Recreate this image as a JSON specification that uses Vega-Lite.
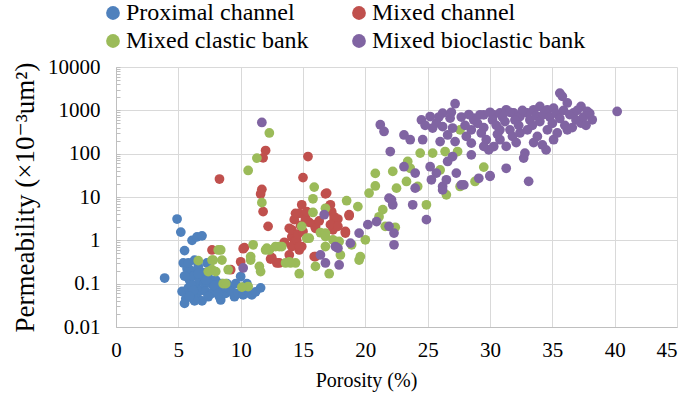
{
  "$schema": "https://vega.github.io/schema/vega-lite/v6.json",
  "width": 561,
  "height": 260,
  "autosize": {"type": "none"},
  "padding": {"left": 116, "top": 67, "right": 8, "bottom": 73},
  "background": "white",
  "config": {
    "view": {"stroke": null},
    "font": "Liberation Serif, Times New Roman, DejaVu Serif, serif",
    "axis": {"labelFont": "Liberation Serif, Times New Roman, DejaVu Serif, serif", "titleFont": "Liberation Serif, Times New Roman, DejaVu Serif, serif"},
    "legend": {"labelFont": "Liberation Serif, Times New Roman, DejaVu Serif, serif"}
  },
  "data": {"values": [
    {"facies": "Proximal channel", "porosity": 3.9, "perm": 0.135},
    {"facies": "Proximal channel", "porosity": 4.9, "perm": 3.1},
    {"facies": "Proximal channel", "porosity": 5.2, "perm": 1.55},
    {"facies": "Proximal channel", "porosity": 5.5, "perm": 0.58},
    {"facies": "Proximal channel", "porosity": 6.1, "perm": 1.0},
    {"facies": "Proximal channel", "porosity": 6.5, "perm": 1.2},
    {"facies": "Proximal channel", "porosity": 6.9, "perm": 1.27},
    {"facies": "Proximal channel", "porosity": 5.4, "perm": 0.3},
    {"facies": "Proximal channel", "porosity": 6.3, "perm": 0.35},
    {"facies": "Proximal channel", "porosity": 5.3, "perm": 0.066},
    {"facies": "Proximal channel", "porosity": 5.5, "perm": 0.035},
    {"facies": "Proximal channel", "porosity": 5.6, "perm": 0.045},
    {"facies": "Proximal channel", "porosity": 5.8, "perm": 0.08},
    {"facies": "Proximal channel", "porosity": 5.9, "perm": 0.12},
    {"facies": "Proximal channel", "porosity": 6.0, "perm": 0.2},
    {"facies": "Proximal channel", "porosity": 6.2, "perm": 0.15},
    {"facies": "Proximal channel", "porosity": 6.4, "perm": 0.09},
    {"facies": "Proximal channel", "porosity": 6.5, "perm": 0.05},
    {"facies": "Proximal channel", "porosity": 6.6, "perm": 0.25},
    {"facies": "Proximal channel", "porosity": 6.7, "perm": 0.12},
    {"facies": "Proximal channel", "porosity": 6.8, "perm": 0.07},
    {"facies": "Proximal channel", "porosity": 7.0, "perm": 0.18},
    {"facies": "Proximal channel", "porosity": 7.1, "perm": 0.1},
    {"facies": "Proximal channel", "porosity": 7.2, "perm": 0.066},
    {"facies": "Proximal channel", "porosity": 7.3, "perm": 0.3},
    {"facies": "Proximal channel", "porosity": 7.4, "perm": 0.14},
    {"facies": "Proximal channel", "porosity": 7.6, "perm": 0.1},
    {"facies": "Proximal channel", "porosity": 7.7, "perm": 0.06},
    {"facies": "Proximal channel", "porosity": 7.8, "perm": 0.066},
    {"facies": "Proximal channel", "porosity": 8.0, "perm": 0.12},
    {"facies": "Proximal channel", "porosity": 8.1, "perm": 0.08},
    {"facies": "Proximal channel", "porosity": 8.3, "perm": 0.05},
    {"facies": "Proximal channel", "porosity": 8.4, "perm": 0.042},
    {"facies": "Proximal channel", "porosity": 8.6, "perm": 0.07},
    {"facies": "Proximal channel", "porosity": 8.8, "perm": 0.06},
    {"facies": "Proximal channel", "porosity": 9.0, "perm": 0.08},
    {"facies": "Proximal channel", "porosity": 9.3, "perm": 0.066},
    {"facies": "Proximal channel", "porosity": 9.5, "perm": 0.05},
    {"facies": "Proximal channel", "porosity": 9.8, "perm": 0.06},
    {"facies": "Proximal channel", "porosity": 10.0, "perm": 0.146},
    {"facies": "Proximal channel", "porosity": 10.2, "perm": 0.055},
    {"facies": "Proximal channel", "porosity": 10.4, "perm": 0.07},
    {"facies": "Proximal channel", "porosity": 10.5, "perm": 0.1},
    {"facies": "Proximal channel", "porosity": 10.7, "perm": 0.06},
    {"facies": "Proximal channel", "porosity": 10.9, "perm": 0.055},
    {"facies": "Proximal channel", "porosity": 11.2, "perm": 0.065},
    {"facies": "Proximal channel", "porosity": 11.6, "perm": 0.08},
    {"facies": "Proximal channel", "porosity": 5.7, "perm": 0.22},
    {"facies": "Proximal channel", "porosity": 6.0, "perm": 0.06},
    {"facies": "Proximal channel", "porosity": 6.9, "perm": 0.04},
    {"facies": "Proximal channel", "porosity": 7.5, "perm": 0.2},
    {"facies": "Proximal channel", "porosity": 5.5, "perm": 0.15},
    {"facies": "Proximal channel", "porosity": 6.3, "perm": 0.04},
    {"facies": "Proximal channel", "porosity": 8.5, "perm": 0.1},
    {"facies": "Proximal channel", "porosity": 9.6, "perm": 0.1},
    {"facies": "Proximal channel", "porosity": 5.8, "perm": 0.3},
    {"facies": "Proximal channel", "porosity": 6.1, "perm": 0.09},
    {"facies": "Proximal channel", "porosity": 6.6, "perm": 0.17},
    {"facies": "Proximal channel", "porosity": 7.2, "perm": 0.12},
    {"facies": "Proximal channel", "porosity": 7.9, "perm": 0.09},
    {"facies": "Proximal channel", "porosity": 6.2, "perm": 0.07},
    {"facies": "Proximal channel", "porosity": 5.9, "perm": 0.05},
    {"facies": "Proximal channel", "porosity": 7.4, "perm": 0.05},
    {"facies": "Proximal channel", "porosity": 8.2, "perm": 0.06},
    {"facies": "Proximal channel", "porosity": 8.9, "perm": 0.1},
    {"facies": "Mixed channel", "porosity": 8.3, "perm": 26},
    {"facies": "Mixed channel", "porosity": 12.0, "perm": 118},
    {"facies": "Mixed channel", "porosity": 11.8, "perm": 80},
    {"facies": "Mixed channel", "porosity": 15.4, "perm": 86},
    {"facies": "Mixed channel", "porosity": 15.0, "perm": 28},
    {"facies": "Mixed channel", "porosity": 11.7, "perm": 15},
    {"facies": "Mixed channel", "porosity": 11.6, "perm": 11.7},
    {"facies": "Mixed channel", "porosity": 11.8, "perm": 4.6},
    {"facies": "Mixed channel", "porosity": 12.2, "perm": 2.1},
    {"facies": "Mixed channel", "porosity": 13.9, "perm": 1.9},
    {"facies": "Mixed channel", "porosity": 16.8, "perm": 11.8},
    {"facies": "Mixed channel", "porosity": 17.2, "perm": 6.6},
    {"facies": "Mixed channel", "porosity": 14.9, "perm": 6.6},
    {"facies": "Mixed channel", "porosity": 14.7, "perm": 4.2},
    {"facies": "Mixed channel", "porosity": 15.2, "perm": 3.3},
    {"facies": "Mixed channel", "porosity": 16.0, "perm": 2.1},
    {"facies": "Mixed channel", "porosity": 14.1, "perm": 1.2},
    {"facies": "Mixed channel", "porosity": 14.3, "perm": 0.86},
    {"facies": "Mixed channel", "porosity": 14.7, "perm": 0.6},
    {"facies": "Mixed channel", "porosity": 13.9, "perm": 0.46},
    {"facies": "Mixed channel", "porosity": 12.4, "perm": 0.37},
    {"facies": "Mixed channel", "porosity": 12.9, "perm": 0.3},
    {"facies": "Mixed channel", "porosity": 10.3, "perm": 0.68},
    {"facies": "Mixed channel", "porosity": 7.7, "perm": 0.6},
    {"facies": "Mixed channel", "porosity": 17.4, "perm": 1.75},
    {"facies": "Mixed channel", "porosity": 17.5, "perm": 3.0},
    {"facies": "Mixed channel", "porosity": 10.2, "perm": 0.64},
    {"facies": "Mixed channel", "porosity": 10.0, "perm": 0.32},
    {"facies": "Mixed channel", "porosity": 9.2, "perm": 0.21},
    {"facies": "Mixed channel", "porosity": 12.5, "perm": 0.4},
    {"facies": "Mixed channel", "porosity": 14.3, "perm": 3.0},
    {"facies": "Mixed channel", "porosity": 14.4, "perm": 1.0},
    {"facies": "Mixed channel", "porosity": 14.1, "perm": 0.72},
    {"facies": "Mixed channel", "porosity": 16.9, "perm": 12.3},
    {"facies": "Mixed channel", "porosity": 17.3, "perm": 4.6},
    {"facies": "Mixed channel", "porosity": 18.7, "perm": 3.7},
    {"facies": "Mixed channel", "porosity": 17.8, "perm": 3.1},
    {"facies": "Mixed channel", "porosity": 14.4, "perm": 4.2},
    {"facies": "Mixed channel", "porosity": 15.2, "perm": 3.0},
    {"facies": "Mixed channel", "porosity": 14.1, "perm": 1.75},
    {"facies": "Mixed channel", "porosity": 14.5, "perm": 1.0},
    {"facies": "Mixed channel", "porosity": 14.9, "perm": 0.72},
    {"facies": "Mixed channel", "porosity": 16.0, "perm": 1.9},
    {"facies": "Mixed channel", "porosity": 18.4, "perm": 1.6},
    {"facies": "Mixed channel", "porosity": 15.9, "perm": 0.42},
    {"facies": "Mixed channel", "porosity": 17.1, "perm": 6.0},
    {"facies": "Mixed channel", "porosity": 17.5, "perm": 3.5},
    {"facies": "Mixed channel", "porosity": 17.2, "perm": 2.3},
    {"facies": "Mixed channel", "porosity": 18.4, "perm": 1.47},
    {"facies": "Mixed channel", "porosity": 18.7, "perm": 3.9},
    {"facies": "Mixed channel", "porosity": 14.7, "perm": 0.72},
    {"facies": "Mixed channel", "porosity": 13.1, "perm": 0.3},
    {"facies": "Mixed channel", "porosity": 16.0, "perm": 0.42},
    {"facies": "Mixed channel", "porosity": 15.9, "perm": 2.3},
    {"facies": "Mixed channel", "porosity": 15.3, "perm": 4.6},
    {"facies": "Mixed channel", "porosity": 17.8, "perm": 2.1},
    {"facies": "Mixed channel", "porosity": 14.6, "perm": 1.4},
    {"facies": "Mixed channel", "porosity": 15.0, "perm": 1.6},
    {"facies": "Mixed channel", "porosity": 15.5, "perm": 2.6},
    {"facies": "Mixed channel", "porosity": 14.8, "perm": 2.2},
    {"facies": "Mixed channel", "porosity": 16.3, "perm": 2.8},
    {"facies": "Mixed channel", "porosity": 13.5, "perm": 0.9},
    {"facies": "Mixed clastic bank", "porosity": 12.3, "perm": 300},
    {"facies": "Mixed clastic bank", "porosity": 11.3, "perm": 79},
    {"facies": "Mixed clastic bank", "porosity": 10.6, "perm": 41},
    {"facies": "Mixed clastic bank", "porosity": 11.7, "perm": 7.4},
    {"facies": "Mixed clastic bank", "porosity": 15.9, "perm": 16.9},
    {"facies": "Mixed clastic bank", "porosity": 15.8, "perm": 9.1},
    {"facies": "Mixed clastic bank", "porosity": 15.8, "perm": 4.4},
    {"facies": "Mixed clastic bank", "porosity": 14.9, "perm": 2.1},
    {"facies": "Mixed clastic bank", "porosity": 16.8, "perm": 5.5},
    {"facies": "Mixed clastic bank", "porosity": 16.4, "perm": 1.5},
    {"facies": "Mixed clastic bank", "porosity": 11.0, "perm": 0.79},
    {"facies": "Mixed clastic bank", "porosity": 12.3, "perm": 0.6},
    {"facies": "Mixed clastic bank", "porosity": 13.1, "perm": 0.72},
    {"facies": "Mixed clastic bank", "porosity": 10.8, "perm": 0.42},
    {"facies": "Mixed clastic bank", "porosity": 11.5, "perm": 0.25},
    {"facies": "Mixed clastic bank", "porosity": 13.6, "perm": 0.3},
    {"facies": "Mixed clastic bank", "porosity": 14.7, "perm": 0.17},
    {"facies": "Mixed clastic bank", "porosity": 15.3, "perm": 1.12},
    {"facies": "Mixed clastic bank", "porosity": 9.0, "perm": 0.21},
    {"facies": "Mixed clastic bank", "porosity": 8.2, "perm": 0.6},
    {"facies": "Mixed clastic bank", "porosity": 7.7, "perm": 0.35},
    {"facies": "Mixed clastic bank", "porosity": 7.7, "perm": 0.21},
    {"facies": "Mixed clastic bank", "porosity": 16.0, "perm": 0.25},
    {"facies": "Mixed clastic bank", "porosity": 17.1, "perm": 0.17},
    {"facies": "Mixed clastic bank", "porosity": 16.8, "perm": 1.47},
    {"facies": "Mixed clastic bank", "porosity": 6.6, "perm": 0.34},
    {"facies": "Mixed clastic bank", "porosity": 8.5, "perm": 0.35},
    {"facies": "Mixed clastic bank", "porosity": 8.6, "perm": 0.1},
    {"facies": "Mixed clastic bank", "porosity": 10.6, "perm": 0.086},
    {"facies": "Mixed clastic bank", "porosity": 12.1, "perm": 0.66},
    {"facies": "Mixed clastic bank", "porosity": 12.8, "perm": 0.72},
    {"facies": "Mixed clastic bank", "porosity": 13.3, "perm": 0.72},
    {"facies": "Mixed clastic bank", "porosity": 13.9, "perm": 0.32},
    {"facies": "Mixed clastic bank", "porosity": 14.4, "perm": 0.3},
    {"facies": "Mixed clastic bank", "porosity": 7.8, "perm": 0.35},
    {"facies": "Mixed clastic bank", "porosity": 8.4, "perm": 0.6},
    {"facies": "Mixed clastic bank", "porosity": 7.4, "perm": 0.19},
    {"facies": "Mixed clastic bank", "porosity": 8.0, "perm": 0.19},
    {"facies": "Mixed clastic bank", "porosity": 8.8, "perm": 0.1},
    {"facies": "Mixed clastic bank", "porosity": 10.8, "perm": 0.35},
    {"facies": "Mixed clastic bank", "porosity": 11.6, "perm": 0.19},
    {"facies": "Mixed clastic bank", "porosity": 10.1, "perm": 0.083},
    {"facies": "Mixed clastic bank", "porosity": 12.0, "perm": 0.6},
    {"facies": "Mixed clastic bank", "porosity": 18.5, "perm": 8.2},
    {"facies": "Mixed clastic bank", "porosity": 19.4, "perm": 6.0},
    {"facies": "Mixed clastic bank", "porosity": 20.8, "perm": 35},
    {"facies": "Mixed clastic bank", "porosity": 20.8, "perm": 18},
    {"facies": "Mixed clastic bank", "porosity": 20.3, "perm": 12.3},
    {"facies": "Mixed clastic bank", "porosity": 22.2, "perm": 39},
    {"facies": "Mixed clastic bank", "porosity": 22.5, "perm": 16},
    {"facies": "Mixed clastic bank", "porosity": 23.3, "perm": 22.8},
    {"facies": "Mixed clastic bank", "porosity": 21.4, "perm": 5.1},
    {"facies": "Mixed clastic bank", "porosity": 21.1, "perm": 3.5},
    {"facies": "Mixed clastic bank", "porosity": 21.6, "perm": 2.1},
    {"facies": "Mixed clastic bank", "porosity": 22.4, "perm": 2.0},
    {"facies": "Mixed clastic bank", "porosity": 20.0, "perm": 1.03},
    {"facies": "Mixed clastic bank", "porosity": 19.5, "perm": 0.35},
    {"facies": "Mixed clastic bank", "porosity": 16.8, "perm": 1.22},
    {"facies": "Mixed clastic bank", "porosity": 17.4, "perm": 1.03},
    {"facies": "Mixed clastic bank", "porosity": 17.9, "perm": 0.94},
    {"facies": "Mixed clastic bank", "porosity": 16.8, "perm": 0.72},
    {"facies": "Mixed clastic bank", "porosity": 18.0, "perm": 0.46},
    {"facies": "Mixed clastic bank", "porosity": 14.0, "perm": 0.3},
    {"facies": "Mixed clastic bank", "porosity": 15.5, "perm": 1.12},
    {"facies": "Mixed clastic bank", "porosity": 18.9, "perm": 0.79},
    {"facies": "Mixed clastic bank", "porosity": 27.6, "perm": 355},
    {"facies": "Mixed clastic bank", "porosity": 27.4, "perm": 112},
    {"facies": "Mixed clastic bank", "porosity": 26.4, "perm": 112},
    {"facies": "Mixed clastic bank", "porosity": 25.4, "perm": 103},
    {"facies": "Mixed clastic bank", "porosity": 24.4, "perm": 103},
    {"facies": "Mixed clastic bank", "porosity": 23.4, "perm": 66},
    {"facies": "Mixed clastic bank", "porosity": 23.6, "perm": 46},
    {"facies": "Mixed clastic bank", "porosity": 24.2, "perm": 17.5},
    {"facies": "Mixed clastic bank", "porosity": 26.0, "perm": 42},
    {"facies": "Mixed clastic bank", "porosity": 24.9, "perm": 6.6},
    {"facies": "Mixed clastic bank", "porosity": 26.5, "perm": 11.2},
    {"facies": "Mixed clastic bank", "porosity": 27.6, "perm": 17.5},
    {"facies": "Mixed clastic bank", "porosity": 28.8, "perm": 22.8},
    {"facies": "Mixed clastic bank", "porosity": 29.5, "perm": 49},
    {"facies": "Mixed clastic bank", "porosity": 19.6, "perm": 0.42},
    {"facies": "Mixed bioclastic bank", "porosity": 10.2, "perm": 0.23},
    {"facies": "Mixed bioclastic bank", "porosity": 11.7, "perm": 525},
    {"facies": "Mixed bioclastic bank", "porosity": 16.7, "perm": 3.9},
    {"facies": "Mixed bioclastic bank", "porosity": 16.4, "perm": 0.46},
    {"facies": "Mixed bioclastic bank", "porosity": 16.8, "perm": 0.3},
    {"facies": "Mixed bioclastic bank", "porosity": 17.6, "perm": 0.72},
    {"facies": "Mixed bioclastic bank", "porosity": 17.9, "perm": 0.27},
    {"facies": "Mixed bioclastic bank", "porosity": 17.8, "perm": 0.66},
    {"facies": "Mixed bioclastic bank", "porosity": 18.8, "perm": 0.86},
    {"facies": "Mixed bioclastic bank", "porosity": 19.5, "perm": 1.47},
    {"facies": "Mixed bioclastic bank", "porosity": 20.2, "perm": 2.3},
    {"facies": "Mixed bioclastic bank", "porosity": 20.9, "perm": 2.7},
    {"facies": "Mixed bioclastic bank", "porosity": 21.9, "perm": 9.4},
    {"facies": "Mixed bioclastic bank", "porosity": 22.2, "perm": 6.6},
    {"facies": "Mixed bioclastic bank", "porosity": 21.9, "perm": 2.1},
    {"facies": "Mixed bioclastic bank", "porosity": 22.3, "perm": 1.47},
    {"facies": "Mixed bioclastic bank", "porosity": 22.3, "perm": 0.79},
    {"facies": "Mixed bioclastic bank", "porosity": 23.8, "perm": 6.6},
    {"facies": "Mixed bioclastic bank", "porosity": 24.9, "perm": 3.0},
    {"facies": "Mixed bioclastic bank", "porosity": 21.2, "perm": 465},
    {"facies": "Mixed bioclastic bank", "porosity": 21.5, "perm": 325},
    {"facies": "Mixed bioclastic bank", "porosity": 22.0, "perm": 112},
    {"facies": "Mixed bioclastic bank", "porosity": 23.1, "perm": 270},
    {"facies": "Mixed bioclastic bank", "porosity": 23.6, "perm": 210},
    {"facies": "Mixed bioclastic bank", "porosity": 24.6, "perm": 210},
    {"facies": "Mixed bioclastic bank", "porosity": 24.5, "perm": 600},
    {"facies": "Mixed bioclastic bank", "porosity": 25.2, "perm": 720},
    {"facies": "Mixed bioclastic bank", "porosity": 25.7, "perm": 510},
    {"facies": "Mixed bioclastic bank", "porosity": 26.2, "perm": 860},
    {"facies": "Mixed bioclastic bank", "porosity": 26.8, "perm": 660},
    {"facies": "Mixed bioclastic bank", "porosity": 25.4, "perm": 390},
    {"facies": "Mixed bioclastic bank", "porosity": 26.2, "perm": 420},
    {"facies": "Mixed bioclastic bank", "porosity": 26.0, "perm": 190},
    {"facies": "Mixed bioclastic bank", "porosity": 26.6, "perm": 270},
    {"facies": "Mixed bioclastic bank", "porosity": 27.2, "perm": 190},
    {"facies": "Mixed bioclastic bank", "porosity": 27.0, "perm": 390},
    {"facies": "Mixed bioclastic bank", "porosity": 27.2, "perm": 1420},
    {"facies": "Mixed bioclastic bank", "porosity": 28.5, "perm": 355},
    {"facies": "Mixed bioclastic bank", "porosity": 28.5, "perm": 175},
    {"facies": "Mixed bioclastic bank", "porosity": 28.5, "perm": 94},
    {"facies": "Mixed bioclastic bank", "porosity": 28.7, "perm": 600},
    {"facies": "Mixed bioclastic bank", "porosity": 29.5, "perm": 790},
    {"facies": "Mixed bioclastic bank", "porosity": 30.3, "perm": 790},
    {"facies": "Mixed bioclastic bank", "porosity": 29.7, "perm": 210},
    {"facies": "Mixed bioclastic bank", "porosity": 30.3, "perm": 146},
    {"facies": "Mixed bioclastic bank", "porosity": 29.9, "perm": 122},
    {"facies": "Mixed bioclastic bank", "porosity": 23.1, "perm": 50},
    {"facies": "Mixed bioclastic bank", "porosity": 24.0, "perm": 35.6},
    {"facies": "Mixed bioclastic bank", "porosity": 24.0, "perm": 16},
    {"facies": "Mixed bioclastic bank", "porosity": 25.2, "perm": 50},
    {"facies": "Mixed bioclastic bank", "porosity": 25.3, "perm": 25},
    {"facies": "Mixed bioclastic bank", "porosity": 25.7, "perm": 35.6},
    {"facies": "Mixed bioclastic bank", "porosity": 26.2, "perm": 17.5},
    {"facies": "Mixed bioclastic bank", "porosity": 26.5, "perm": 25},
    {"facies": "Mixed bioclastic bank", "porosity": 26.6, "perm": 66},
    {"facies": "Mixed bioclastic bank", "porosity": 27.0, "perm": 86},
    {"facies": "Mixed bioclastic bank", "porosity": 27.9, "perm": 19},
    {"facies": "Mixed bioclastic bank", "porosity": 29.1, "perm": 27},
    {"facies": "Mixed bioclastic bank", "porosity": 30.0, "perm": 31},
    {"facies": "Mixed bioclastic bank", "porosity": 28.7, "perm": 665},
    {"facies": "Mixed bioclastic bank", "porosity": 29.2, "perm": 790},
    {"facies": "Mixed bioclastic bank", "porosity": 30.0, "perm": 900},
    {"facies": "Mixed bioclastic bank", "porosity": 30.8, "perm": 870},
    {"facies": "Mixed bioclastic bank", "porosity": 31.3, "perm": 1030},
    {"facies": "Mixed bioclastic bank", "porosity": 31.9, "perm": 870},
    {"facies": "Mixed bioclastic bank", "porosity": 32.4, "perm": 720},
    {"facies": "Mixed bioclastic bank", "porosity": 33.0, "perm": 870},
    {"facies": "Mixed bioclastic bank", "porosity": 33.5, "perm": 1030},
    {"facies": "Mixed bioclastic bank", "porosity": 34.0, "perm": 1230},
    {"facies": "Mixed bioclastic bank", "porosity": 34.6, "perm": 1030},
    {"facies": "Mixed bioclastic bank", "porosity": 35.1, "perm": 1120},
    {"facies": "Mixed bioclastic bank", "porosity": 35.6, "perm": 2500},
    {"facies": "Mixed bioclastic bank", "porosity": 35.8, "perm": 2100},
    {"facies": "Mixed bioclastic bank", "porosity": 36.2, "perm": 1480},
    {"facies": "Mixed bioclastic bank", "porosity": 36.7, "perm": 870},
    {"facies": "Mixed bioclastic bank", "porosity": 37.3, "perm": 1230},
    {"facies": "Mixed bioclastic bank", "porosity": 37.8, "perm": 940},
    {"facies": "Mixed bioclastic bank", "porosity": 38.2, "perm": 605},
    {"facies": "Mixed bioclastic bank", "porosity": 40.2, "perm": 940},
    {"facies": "Mixed bioclastic bank", "porosity": 30.8, "perm": 210},
    {"facies": "Mixed bioclastic bank", "porosity": 31.3, "perm": 147},
    {"facies": "Mixed bioclastic bank", "porosity": 30.8, "perm": 355},
    {"facies": "Mixed bioclastic bank", "porosity": 31.6, "perm": 355},
    {"facies": "Mixed bioclastic bank", "porosity": 32.4, "perm": 300},
    {"facies": "Mixed bioclastic bank", "porosity": 33.0, "perm": 355},
    {"facies": "Mixed bioclastic bank", "porosity": 33.8, "perm": 250},
    {"facies": "Mixed bioclastic bank", "porosity": 34.6, "perm": 355},
    {"facies": "Mixed bioclastic bank", "porosity": 35.1, "perm": 210},
    {"facies": "Mixed bioclastic bank", "porosity": 35.4, "perm": 300},
    {"facies": "Mixed bioclastic bank", "porosity": 36.2, "perm": 355},
    {"facies": "Mixed bioclastic bank", "porosity": 37.3, "perm": 510},
    {"facies": "Mixed bioclastic bank", "porosity": 29.5, "perm": 147},
    {"facies": "Mixed bioclastic bank", "porosity": 31.3, "perm": 46},
    {"facies": "Mixed bioclastic bank", "porosity": 30.0, "perm": 30},
    {"facies": "Mixed bioclastic bank", "porosity": 33.1, "perm": 23},
    {"facies": "Mixed bioclastic bank", "porosity": 34.5, "perm": 122},
    {"facies": "Mixed bioclastic bank", "porosity": 32.7, "perm": 79},
    {"facies": "Mixed bioclastic bank", "porosity": 32.8, "perm": 103},
    {"facies": "Mixed bioclastic bank", "porosity": 27.3, "perm": 35.6},
    {"facies": "Mixed bioclastic bank", "porosity": 26.2, "perm": 14.6},
    {"facies": "Mixed bioclastic bank", "porosity": 27.7, "perm": 19},
    {"facies": "Mixed bioclastic bank", "porosity": 22.1, "perm": 8.6},
    {"facies": "Mixed bioclastic bank", "porosity": 28.0, "perm": 450},
    {"facies": "Mixed bioclastic bank", "porosity": 28.3, "perm": 800},
    {"facies": "Mixed bioclastic bank", "porosity": 29.0, "perm": 500},
    {"facies": "Mixed bioclastic bank", "porosity": 29.5, "perm": 400},
    {"facies": "Mixed bioclastic bank", "porosity": 30.2, "perm": 600},
    {"facies": "Mixed bioclastic bank", "porosity": 30.5, "perm": 450},
    {"facies": "Mixed bioclastic bank", "porosity": 31.0, "perm": 700},
    {"facies": "Mixed bioclastic bank", "porosity": 31.2, "perm": 550},
    {"facies": "Mixed bioclastic bank", "porosity": 31.6, "perm": 900},
    {"facies": "Mixed bioclastic bank", "porosity": 32.0, "perm": 600},
    {"facies": "Mixed bioclastic bank", "porosity": 32.3, "perm": 450},
    {"facies": "Mixed bioclastic bank", "porosity": 32.6, "perm": 1000},
    {"facies": "Mixed bioclastic bank", "porosity": 33.2, "perm": 600},
    {"facies": "Mixed bioclastic bank", "porosity": 33.4, "perm": 450},
    {"facies": "Mixed bioclastic bank", "porosity": 33.7, "perm": 750},
    {"facies": "Mixed bioclastic bank", "porosity": 34.0, "perm": 550},
    {"facies": "Mixed bioclastic bank", "porosity": 34.3, "perm": 800},
    {"facies": "Mixed bioclastic bank", "porosity": 34.8, "perm": 700},
    {"facies": "Mixed bioclastic bank", "porosity": 35.0, "perm": 500},
    {"facies": "Mixed bioclastic bank", "porosity": 35.3, "perm": 850},
    {"facies": "Mixed bioclastic bank", "porosity": 35.6, "perm": 650},
    {"facies": "Mixed bioclastic bank", "porosity": 35.9, "perm": 1000},
    {"facies": "Mixed bioclastic bank", "porosity": 36.0, "perm": 450},
    {"facies": "Mixed bioclastic bank", "porosity": 36.4, "perm": 800},
    {"facies": "Mixed bioclastic bank", "porosity": 36.9, "perm": 600},
    {"facies": "Mixed bioclastic bank", "porosity": 37.0, "perm": 1000},
    {"facies": "Mixed bioclastic bank", "porosity": 37.5, "perm": 700},
    {"facies": "Mixed bioclastic bank", "porosity": 38.0, "perm": 850},
    {"facies": "Mixed bioclastic bank", "porosity": 31.8, "perm": 250},
    {"facies": "Mixed bioclastic bank", "porosity": 32.1, "perm": 180},
    {"facies": "Mixed bioclastic bank", "porosity": 33.5, "perm": 180},
    {"facies": "Mixed bioclastic bank", "porosity": 34.2, "perm": 160},
    {"facies": "Mixed bioclastic bank", "porosity": 36.6, "perm": 400},
    {"facies": "Mixed bioclastic bank", "porosity": 37.7, "perm": 450},
    {"facies": "Mixed bioclastic bank", "porosity": 27.7, "perm": 700},
    {"facies": "Mixed bioclastic bank", "porosity": 26.9, "perm": 900},
    {"facies": "Mixed bioclastic bank", "porosity": 25.9, "perm": 700},
    {"facies": "Mixed bioclastic bank", "porosity": 24.8, "perm": 450},
    {"facies": "Mixed bioclastic bank", "porosity": 28.1, "perm": 250},
    {"facies": "Mixed bioclastic bank", "porosity": 29.3, "perm": 300},
    {"facies": "Mixed bioclastic bank", "porosity": 30.6, "perm": 280}
  ]},
  "mark": {"type": "point", "filled": true, "size": 95, "opacity": 1, "strokeWidth": 0},
  "encoding": {
    "x": {
      "field": "porosity", "type": "quantitative",
      "scale": {"domain": [0, 45], "nice": false, "zero": false},
      "axis": {
        "title": "Porosity (%)",
        "values": [0, 5, 10, 15, 20, 25, 30, 35, 40, 45],
        "grid": true, "gridColor": "#D9D9D9", "gridWidth": 1,
        "domainColor": "#BFBFBF", "ticks": false,
        "labelFontSize": 21, "labelColor": "#000000",
        "labelPadding": 12,
        "labelAlign": {"condition": {"test": "datum.value === 45", "value": "right"}, "value": "center"},
        "titleFontSize": 20, "titleFontWeight": "normal", "titleColor": "#000000",
        "titleX": 250,
        "titlePadding": 10
      }
    },
    "y": {
      "field": "perm", "type": "quantitative",
      "scale": {"type": "log", "domain": [0.01, 10000], "nice": false},
      "axis": {
        "title": "Permeability (×10⁻³um²)",
        "values": [0.01, 0.02, 0.03, 0.04, 0.05, 0.06, 0.07, 0.08, 0.09, 0.1, 0.2, 0.3, 0.4, 0.5, 0.6, 0.7, 0.8, 0.9, 1, 2, 3, 4, 5, 6, 7, 8, 9, 10, 20, 30, 40, 50, 60, 70, 80, 90, 100, 200, 300, 400, 500, 600, 700, 800, 900, 1000, 2000, 3000, 4000, 5000, 6000, 7000, 8000, 9000, 10000],
        "labelExpr": "abs(log(datum.value)/LN10 - round(log(datum.value)/LN10)) < 0.001 ? format(datum.value, '~f') : ''",
        "grid": true, "gridColor": "#D9D9D9", "gridWidth": 1,
        "gridOpacity": {"condition": {"test": "abs(log(datum.value)/LN10 - round(log(datum.value)/LN10)) < 0.001", "value": 1}, "value": 0},
        "domainColor": "#BFBFBF", "tickColor": "#BFBFBF", "tickSize": -4,
        "labelFontSize": 21, "labelColor": "#000000",
        "labelPadding": 20, "labelOverlap": false,
        "titleFontSize": 27, "titleFontWeight": "normal", "titleColor": "#000000",
        "titlePadding": 8
      }
    },
    "color": {
      "field": "facies", "type": "nominal",
      "scale": {
        "domain": ["Proximal channel", "Mixed channel", "Mixed clastic bank", "Mixed bioclastic bank"],
        "range": ["#4F81BD", "#C0504D", "#9BBB59", "#8064A2"]
      },
      "legend": {
        "title": null,
        "orient": "none",
        "legendX": -15,
        "legendY": -66,
        "columns": 2,
        "direction": "horizontal",
        "symbolType": "circle",
        "symbolSize": 190,
        "symbolStrokeWidth": 0,
        "labelFontSize": 24,
        "labelColor": "#000000",
        "labelOffset": 1,
        "columnPadding": 38,
        "rowPadding": 4,
        "labelLimit": 400
      }
    },
    "order": {"value": 0}
  }
}
